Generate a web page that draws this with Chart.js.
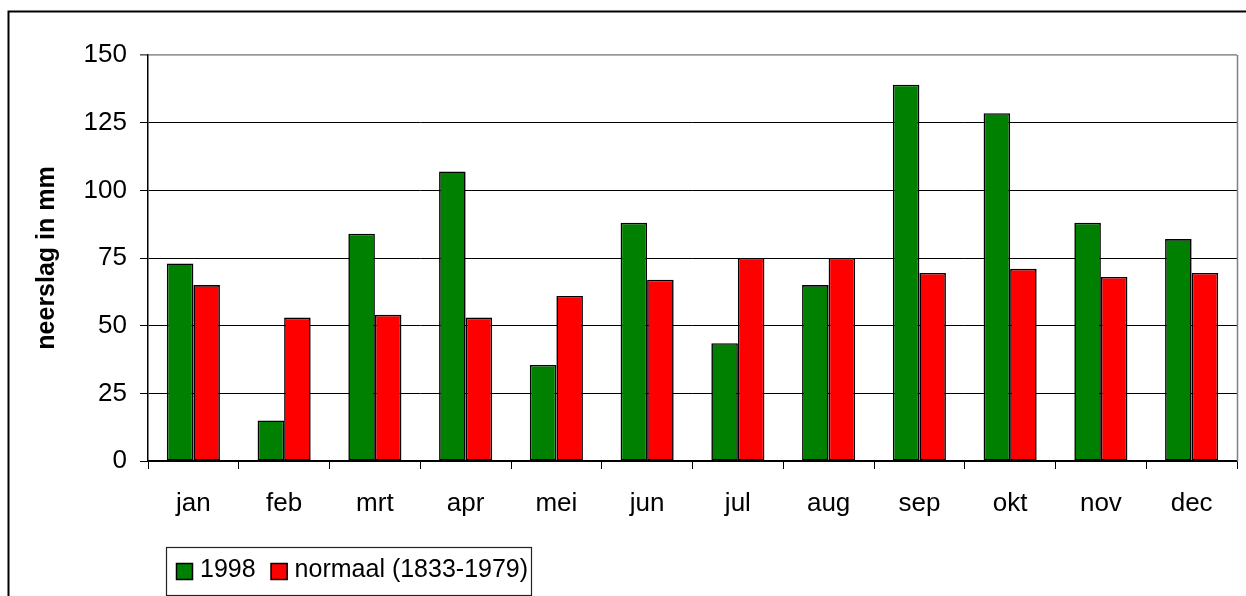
<!DOCTYPE html>
<html>
<head>
<meta charset="utf-8">
<script src="https://cdn.jsdelivr.net/npm/chart.js@4"></script>
<style>
html,body{margin:0;padding:0;background:#fff;}
#wrap{width:1246px;height:596px;position:relative;}
</style>
</head>
<body>
<div id="wrap"><canvas id="c" width="1246" height="596"></canvas></div>
<script>
const categories = ['jan','feb','mrt','apr','mei','jun','jul','aug','sep','okt','nov','dec'];
const series1998 = [73, 15, 84, 107, 35.5, 88, 43.5, 65, 139, 128.5, 88, 82];
const seriesNormaal = [65, 53, 54, 53, 61, 67, 75, 75, 69.5, 71, 68, 69.5];
const seriesNames = ['1998', 'normaal (1833-1979)'];
const seriesColors = ['#008000', '#ff0000'];
const yTitle = 'neerslag in mm';

const FONT = "'Liberation Sans', Arial, sans-serif";

const decor = {
  id: 'decor',
  afterDraw(chart) {
    const ctx = chart.ctx;
    const a = chart.chartArea;
    ctx.save();
    // right border of plot area
    ctx.strokeStyle = '#808080';
    ctx.lineWidth = 1.5;
    ctx.beginPath();
    ctx.moveTo(a.right + 0.5, a.top);
    ctx.lineTo(a.right + 0.5, a.bottom);
    ctx.stroke();
    // outer frame
    ctx.strokeStyle = '#000';
    ctx.lineWidth = 2;
    ctx.strokeRect(8.5, 11.5, 3000, 3000);
    // legend box
    ctx.lineWidth = 1.2;
    ctx.strokeStyle = '#222';
    ctx.strokeRect(166.5, 547.5, 365, 48);
    // legend items
    ctx.font = '25px ' + FONT;
    ctx.textBaseline = 'alphabetic';
    ctx.fillStyle = '#000';
    let x = 176;
    chart.data.datasets.forEach((ds, i) => {
      ctx.fillStyle = ds.backgroundColor;
      ctx.fillRect(x, 563, 17, 17);
      ctx.lineWidth = 1.5;
      ctx.strokeStyle = '#000';
      ctx.strokeRect(x + 0.5, 563.5, 16, 16);
      ctx.fillStyle = '#000';
      ctx.fillText(ds.label, x + 24, 577);
      x = x + 24 + ctx.measureText(ds.label).width + 15;
    });
    ctx.restore();
  }
};

new Chart(document.getElementById('c'), {
  type: 'bar',
  data: {
    labels: categories,
    datasets: [
      { label: seriesNames[0], data: series1998, backgroundColor: seriesColors[0], borderColor: '#000', borderWidth: 1.6, borderSkipped: false },
      { label: seriesNames[1], data: seriesNormaal, backgroundColor: seriesColors[1], borderColor: '#000', borderWidth: 1.6, borderSkipped: false }
    ]
  },
  options: {
    responsive: false,
    animation: false,
    devicePixelRatio: 1,
    layout: { padding: { top: 55, right: 9, left: 0, bottom: 0 } },
    plugins: { legend: { display: false }, tooltip: { enabled: false } },
    datasets: { bar: { categoryPercentage: 0.585, barPercentage: 1.0 } },
    scales: {
      x: {
        afterFit: s => { s.height = 135; },
        grid: { offset: true, drawOnChartArea: false, drawTicks: true, tickLength: 8, tickColor: '#000', tickWidth: 1 },
        border: { display: true, color: '#000', width: 1.5 },
        ticks: { color: '#000', font: { family: FONT, size: 26 }, padding: 19, maxRotation: 0 }
      },
      y: {
        min: 0, max: 150,
        afterFit: s => { s.width = 148; },
        grid: {
          color: c => (c.tick && c.tick.value === 150) ? '#999999' : '#000',
          lineWidth: c => (c.tick && c.tick.value === 150) ? 1.8 : 1,
          tickLength: 8, tickColor: '#000', tickWidth: 1
        },
        border: { display: true, color: '#000', width: 1.5 },
        ticks: { stepSize: 25, color: '#000', font: { family: FONT, size: 26 }, padding: 13 },
        title: { display: true, text: yTitle, color: '#000', font: { family: FONT, size: 25, weight: 'bold' }, padding: { top: 32, bottom: 0 } }
      }
    }
  },
  plugins: [decor]
});
</script>
</body>
</html>
